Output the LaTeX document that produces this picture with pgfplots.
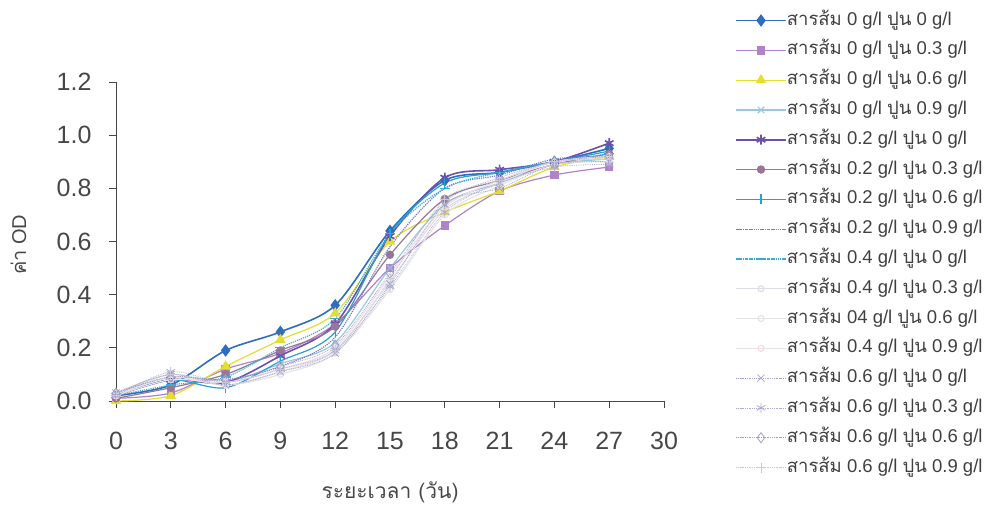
\documentclass[border=0pt]{standalone}
\usepackage{fontspec}
\setmainfont{Liberation Sans}
\newfontfamily\thaifont[Script=Thai]{Loma}
\usepackage{pgfplots}
\pgfplotsset{compat=1.18}
\definecolor{c1}{RGB}{46,110,190}
\definecolor{c2}{RGB}{176,130,200}
\definecolor{c3}{RGB}{228,222,50}
\definecolor{c4}{RGB}{150,200,225}
\definecolor{c5}{RGB}{110,80,170}
\definecolor{c6}{RGB}{150,120,150}
\definecolor{c7}{RGB}{40,160,210}
\definecolor{c8}{RGB}{120,120,200}
\definecolor{c9}{RGB}{60,170,215}
\definecolor{c10}{RGB}{222,222,235}
\definecolor{c11}{RGB}{228,228,228}
\definecolor{c12}{RGB}{240,222,230}
\definecolor{c13}{RGB}{165,165,195}
\definecolor{c14}{RGB}{175,170,212}
\definecolor{c15}{RGB}{160,160,200}
\definecolor{c16}{RGB}{200,200,215}
\definecolor{axg}{RGB}{70,70,70}
\newcommand{\leg}[2]{{\thaifont สารส้ม} #1 g/l {\thaifont ปูน} #2 g/l}
\begin{document}
\begin{tikzpicture}
\path[use as bounding box] (0,0) rectangle (999pt,511pt);
\begin{axis}[
  at={(116pt,110pt)}, anchor=south west,
  scale only axis, width=548pt, height=319pt,
  xmin=0, xmax=30, ymin=0, ymax=1.2,
  xtick={0,3,6,9,12,15,18,21,24,27,30},
  ytick={0,0.2,0.4,0.6,0.8,1.0,1.2},
  axis lines=left,
  axis line style={-, color=axg, line width=0.8pt},
  tick align=outside, major tick length=7pt,
  tick style={axg, line width=0.8pt},
  xtick pos=bottom, ytick pos=left,
  /pgf/number format/assume math mode=true,
  yticklabel style={/pgf/number format/fixed, /pgf/number format/fixed zerofill, /pgf/number format/precision=1, xshift=-14pt},
  ticklabel style={font=\fontsize{25}{25}\selectfont, text=black!72},
  xticklabel style={yshift=-21pt},
  ylabel={{\thaifont ค่า} OD},
  ylabel style={at={(axis description cs:-0.178,0.49)}, anchor=center, font=\fontsize{20}{20}\selectfont, text=black!72},
  xlabel={\thaifont ระยะเวลา (วัน)},
  xlabel style={at={(axis description cs:0.5,-0.285)}, anchor=center, font=\fontsize{21}{21}\selectfont, text=black!72},
  clip=false,
  every axis plot/.append style={smooth, line width=1.2pt},
  legend image code/.code={\draw[mark repeat=2,mark phase=2] plot coordinates {(0pt,0pt) (25pt,0pt) (50pt,0pt)};},
  legend cell align=left,
  legend style={draw=none, fill=none, at={(axis description cs:1.1296,1.22)}, anchor=north west,
    inner sep=0pt, row sep=12.8pt,
    font=\fontsize{18.5}{18.5}\selectfont, text=black!75,
    nodes={inner sep=0pt, text height=13pt, text depth=4pt, xshift=5pt}},
]
\addplot[c1, line width=1.6pt, mark=diamond*, mark size=5pt] coordinates {(0,0.02)(3,0.06)(6,0.19)(9,0.26)(12,0.36)(15,0.64)(18,0.83)(21,0.86)(24,0.90)(27,0.95)};
\addlegendentry{\leg{0}{0}}
\addplot[c2, mark=square*, mark size=3.6pt] coordinates {(0,0.01)(3,0.03)(6,0.12)(9,0.18)(12,0.29)(15,0.50)(18,0.66)(21,0.79)(24,0.85)(27,0.88)};
\addlegendentry{\leg{0}{0.3}}
\addplot[c3, mark=triangle*, mark size=5pt] coordinates {(0,0.00)(3,0.02)(6,0.13)(9,0.23)(12,0.33)(15,0.60)(18,0.71)(21,0.79)(24,0.88)(27,0.92)};
\addlegendentry{\leg{0}{0.6}}
\addplot[c4, mark=x, mark size=4.5pt] coordinates {(0,0.02)(3,0.08)(6,0.07)(9,0.14)(12,0.22)(15,0.50)(18,0.74)(21,0.82)(24,0.89)(27,0.91)};
\addlegendentry{\leg{0}{0.9}}
\addplot[c5, line width=1.6pt, mark=asterisk, mark size=5pt] coordinates {(0,0.02)(3,0.08)(6,0.07)(9,0.17)(12,0.29)(15,0.62)(18,0.84)(21,0.87)(24,0.90)(27,0.97)};
\addlegendentry{\leg{0.2}{0}}
\addplot[c6, mark=*, mark size=3.6pt] coordinates {(0,0.01)(3,0.05)(6,0.10)(9,0.19)(12,0.28)(15,0.55)(18,0.76)(21,0.83)(24,0.89)(27,0.93)};
\addlegendentry{\leg{0.2}{0.3}}
\addplot[c7, mark=|, mark size=5pt] coordinates {(0,0.02)(3,0.08)(6,0.05)(9,0.15)(12,0.26)(15,0.63)(18,0.82)(21,0.86)(24,0.90)(27,0.94)};
\addlegendentry{\leg{0.2}{0.6}}
\addplot[c8, densely dotted, no markers] coordinates {(0,0.03)(3,0.09)(6,0.08)(9,0.13)(12,0.24)(15,0.58)(18,0.80)(21,0.85)(24,0.91)(27,0.92)};
\addlegendentry{\leg{0.2}{0.9}}
\addplot[c9, densely dotted, mark=-, mark size=5pt, mark options={solid}] coordinates {(0,0.02)(3,0.06)(6,0.09)(9,0.20)(12,0.31)(15,0.63)(18,0.80)(21,0.86)(24,0.90)(27,0.93)};
\addlegendentry{\leg{0.4}{0}}
\addplot[c10, mark=o, mark size=3pt] coordinates {(0,0.03)(3,0.10)(6,0.06)(9,0.11)(12,0.19)(15,0.45)(18,0.72)(21,0.82)(24,0.90)(27,0.91)};
\addlegendentry{\leg{0.4}{0.3}}
\addplot[c11, mark=o, mark size=3pt] coordinates {(0,0.02)(3,0.09)(6,0.06)(9,0.10)(12,0.18)(15,0.42)(18,0.70)(21,0.81)(24,0.89)(27,0.90)};
\addlegendentry{{\thaifont สารส้ม} 04 g/l {\thaifont ปูน} 0.6 g/l}
\addplot[c12, mark=o, mark size=3pt] coordinates {(0,0.02)(3,0.08)(6,0.07)(9,0.12)(12,0.20)(15,0.47)(18,0.73)(21,0.83)(24,0.90)(27,0.92)};
\addlegendentry{\leg{0.4}{0.9}}
\addplot[c13, line width=0.8pt, densely dotted, mark=x, mark size=5pt, mark options={solid}] coordinates {(0,0.03)(3,0.10)(6,0.06)(9,0.11)(12,0.18)(15,0.44)(18,0.74)(21,0.80)(24,0.89)(27,0.90)};
\addlegendentry{\leg{0.6}{0}}
\addplot[c14, line width=0.8pt, densely dotted, mark=asterisk, mark size=5pt, mark options={solid}] coordinates {(0,0.02)(3,0.11)(6,0.07)(9,0.12)(12,0.19)(15,0.43)(18,0.71)(21,0.82)(24,0.88)(27,0.89)};
\addlegendentry{\leg{0.6}{0.3}}
\addplot[c15, line width=0.8pt, densely dotted, mark=diamond, mark size=5pt, mark options={solid}] coordinates {(0,0.03)(3,0.09)(6,0.08)(9,0.13)(12,0.21)(15,0.48)(18,0.75)(21,0.84)(24,0.90)(27,0.92)};
\addlegendentry{\leg{0.6}{0.6}}
\addplot[c16, line width=0.8pt, densely dotted, mark=+, mark size=5pt, mark options={solid}] coordinates {(0,0.02)(3,0.10)(6,0.07)(9,0.12)(12,0.19)(15,0.46)(18,0.76)(21,0.83)(24,0.90)(27,0.91)};
\addlegendentry{\leg{0.6}{0.9}}
\end{axis}
\end{tikzpicture}
\end{document}
